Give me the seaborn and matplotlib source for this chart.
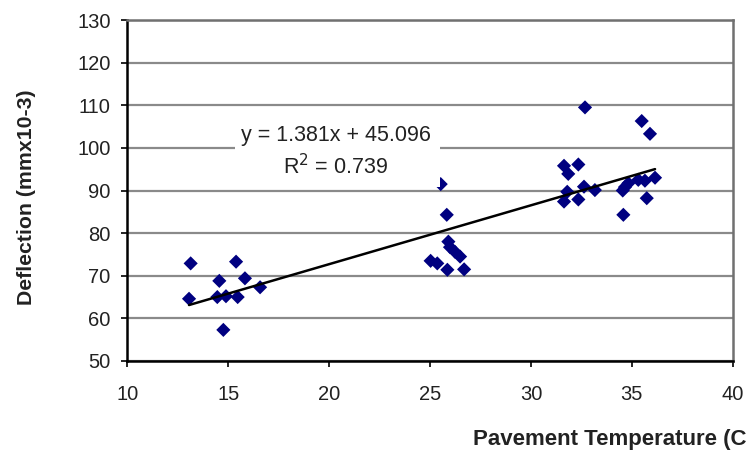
import numpy as np
import pandas as pd
import matplotlib
matplotlib.use("Agg")
import matplotlib.pyplot as plt
from matplotlib.patches import Rectangle
import seaborn as sns

# Pavement temperature (C) and measured deflection (mm x 10^-3)
temperature = [
    13.14, 15.39, 14.56, 15.83, 16.58, 13.06, 14.46, 14.89, 15.47, 14.76,
    25.53, 25.83, 25.91, 25.99, 26.24, 26.49, 25.03, 25.36, 25.86, 26.69,
    32.68, 35.49, 35.90, 31.64, 32.35, 31.85, 36.15, 35.32, 35.65, 34.83,
    34.66, 34.55, 32.63, 33.17, 31.80, 31.64, 32.35, 35.74, 34.58,
]
deflection = [
    72.9, 73.3, 68.8, 69.4, 67.3, 64.6, 65.0, 65.2, 65.0, 57.3,
    91.5, 84.3, 78.0, 76.7, 75.6, 74.5, 73.5, 72.9, 71.4, 71.5,
    109.5, 106.3, 103.3, 95.8, 96.1, 93.9, 93.0, 92.5, 92.3, 91.7,
    90.8, 90.0, 90.9, 90.1, 89.7, 87.4, 87.9, 88.2, 84.3,
]

# Linear trendline
slope = 1.381
intercept = 45.096
r_squared = 0.739

x_ticks = [10, 15, 20, 25, 30, 35, 40]
y_ticks = [50, 60, 70, 80, 90, 100, 110, 120, 130]

df = pd.DataFrame({"temperature": temperature, "deflection": deflection})

sns.set_theme(style="white")
plt.rcParams["font.family"] = ["Liberation Sans", "DejaVu Sans"]

fig = plt.figure(figsize=(7.47, 4.55), dpi=100)
ax = fig.add_axes([0.1704, 0.2066, 0.8105, 0.7494])

# horizontal gridlines
ax.set_axisbelow(True)
ax.yaxis.grid(True, color="#8a8a8a", linewidth=1.6)
ax.xaxis.grid(False)

sns.scatterplot(data=df, x="temperature", y="deflection", marker="D",
                color="#000080", edgecolor="none", s=52, ax=ax, zorder=2)

x_line = np.array([df["temperature"].min(), df["temperature"].max()])
ax.plot(x_line, slope * x_line + intercept, color="black", linewidth=1.8, zorder=3)

ax.set_xlim(x_ticks[0], x_ticks[-1])
ax.set_ylim(y_ticks[0], y_ticks[-1])
ax.set_xticks(x_ticks)
ax.set_yticks(y_ticks)

# white label box for the trendline equation
ax.add_patch(Rectangle((15.34, 90.9), 10.16, 16.0, facecolor="white",
                       edgecolor="none", zorder=4))
ax.text(20.32, 103.0, f"y = {slope:.3f}x + {intercept:.3f}", ha="center",
        va="center", fontsize=15.5, color="#222222", zorder=5)
ax.text(20.3, 95.6, f"R$^2$ = {r_squared:.3f}", ha="center", va="center",
        fontsize=15.5, color="#222222", zorder=5)

for side in ("left", "bottom"):
    ax.spines[side].set_color("black")
    ax.spines[side].set_linewidth(1.8)
for side in ("right", "top"):
    ax.spines[side].set_color("#707070")
    ax.spines[side].set_linewidth(1.8)

ax.tick_params(axis="both", which="major", direction="out", length=4,
               width=1.2, color="black", labelsize=14.5, labelcolor="#222222",
               left=True, bottom=True)
ax.tick_params(axis="y", pad=8)
ax.tick_params(axis="x", pad=13)

ax.set_xlabel("")
ax.set_ylabel("")
fig.text(26 / 747, 1 - 197.5 / 455, "Deflection (mmx10-3)", rotation=90,
         ha="center", va="center", fontsize=15.3, fontweight="bold",
         color="#222222")
fig.text(0.9995, 1 - 440 / 455, "Pavement Temperature (C", ha="right",
         va="center", fontsize=16, fontweight="bold", color="#222222")

fig.savefig("out.png", dpi=100)
